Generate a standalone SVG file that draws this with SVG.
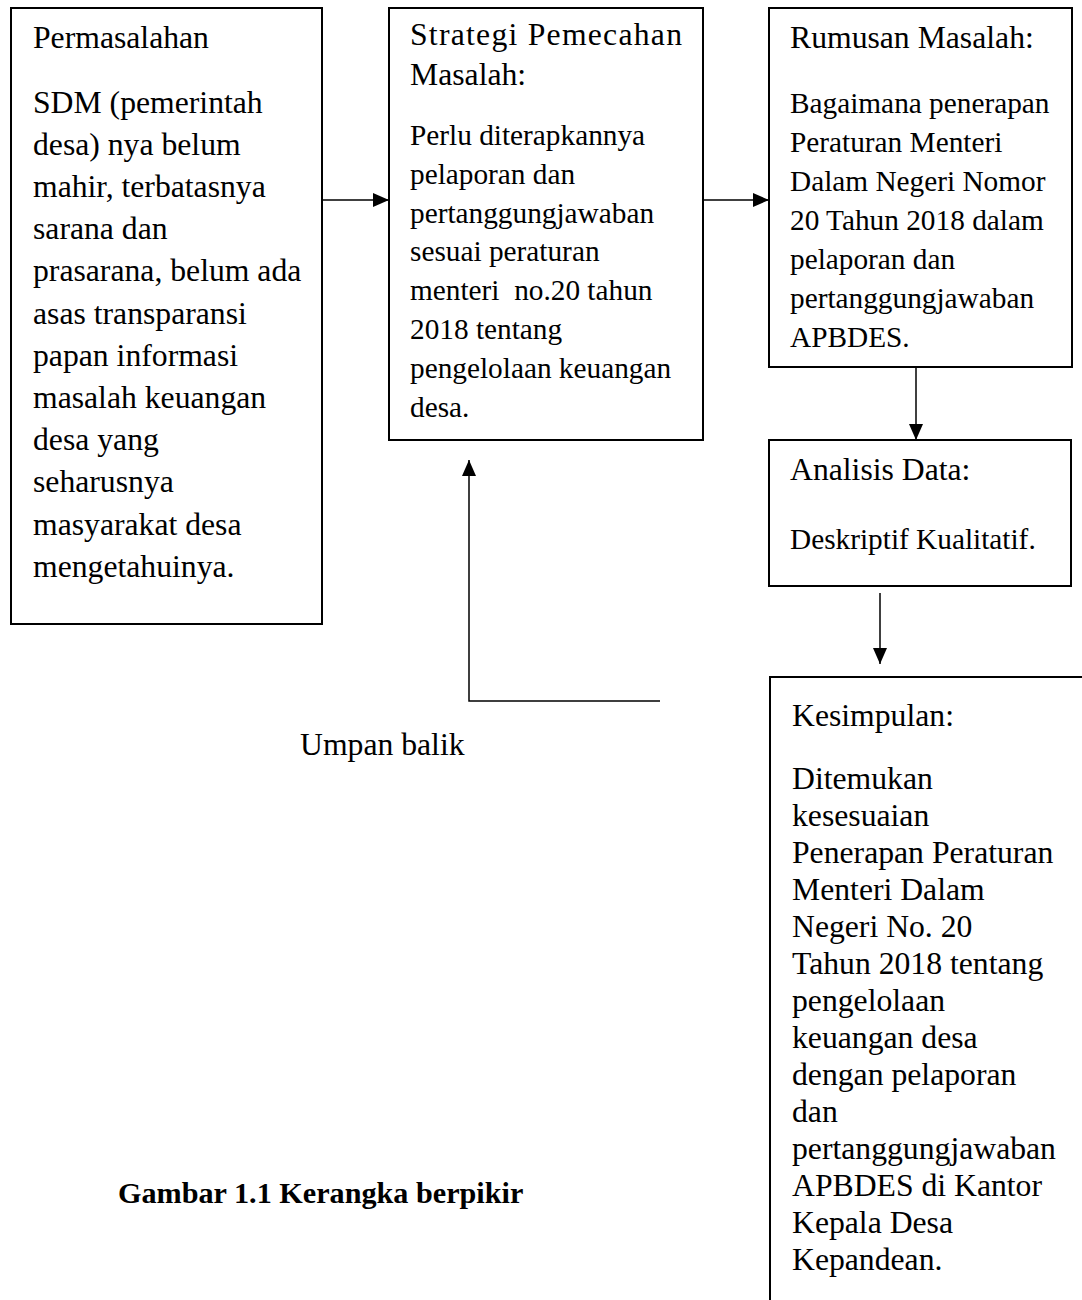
<svg xmlns="http://www.w3.org/2000/svg" width="1082" height="1300" viewBox="0 0 1082 1300">
<style>
.box{fill:#fff;stroke:#000;stroke-width:2}
.t{font-family:"Liberation Serif","Times New Roman",serif;font-size:31.7px;fill:#000}
.b{font-size:29.3px}
.conn{fill:none;stroke:#000;stroke-width:1.5}
.cap{font-weight:bold;font-size:30.2px}
</style>
<defs>
<marker id="ah" markerUnits="userSpaceOnUse" markerWidth="18" markerHeight="14" refX="16" refY="7" orient="auto">
<path d="M0,0 L16,7 L0,14 Z" fill="#000"/>
</marker>
</defs>
<rect width="1082" height="1300" fill="#fff"/>
<g id="connectors">
<line class="conn" x1="322" y1="200" x2="389" y2="200" marker-end="url(#ah)"/>
<line class="conn" x1="703" y1="200" x2="769" y2="200" marker-end="url(#ah)"/>
<line class="conn" x1="916" y1="367" x2="916" y2="440" marker-end="url(#ah)"/>
<line class="conn" x1="880" y1="593" x2="880" y2="664" marker-end="url(#ah)"/>
<polyline class="conn" points="660,701 469,701 469,460" marker-end="url(#ah)"/>
</g>
<g id="permasalahan">
<rect class="box" x="11" y="8" width="311" height="616"/>
<text class="t" x="33" y="48">Permasalahan</text>
<text class="t" x="33" y="113">SDM (pemerintah</text>
<text class="t" x="33" y="155">desa) nya belum</text>
<text class="t" x="33" y="197">mahir, terbatasnya</text>
<text class="t" x="33" y="239">sarana dan</text>
<text class="t" x="33" y="281">prasarana, belum ada</text>
<text class="t" x="33" y="324">asas transparansi</text>
<text class="t" x="33" y="366">papan informasi</text>
<text class="t" x="33" y="408">masalah keuangan</text>
<text class="t" x="33" y="450">desa yang</text>
<text class="t" x="33" y="492">seharusnya</text>
<text class="t" x="33" y="535">masyarakat desa</text>
<text class="t" x="33" y="577">mengetahuinya.</text>
</g>
<g id="strategi">
<rect class="box" x="389" y="8" width="314" height="432"/>
<text class="t" x="410" y="45" textLength="272" lengthAdjust="spacing">Strategi Pemecahan</text>
<text class="t" x="410" y="85">Masalah:</text>
<text class="t b" x="410" y="145">Perlu diterapkannya</text>
<text class="t b" x="410" y="184">pelaporan dan</text>
<text class="t b" x="410" y="223">pertanggungjawaban</text>
<text class="t b" x="410" y="261">sesuai peraturan</text>
<text class="t b" x="410" y="300" xml:space="preserve">menteri  no.20 tahun</text>
<text class="t b" x="410" y="339">2018 tentang</text>
<text class="t b" x="410" y="378">pengelolaan keuangan</text>
<text class="t b" x="410" y="417">desa.</text>
</g>
<g id="rumusan">
<rect class="box" x="769" y="8" width="303" height="359"/>
<text class="t" x="790" y="48">Rumusan Masalah:</text>
<text class="t b" x="790" y="113">Bagaimana penerapan</text>
<text class="t b" x="790" y="152">Peraturan Menteri</text>
<text class="t b" x="790" y="191">Dalam Negeri Nomor</text>
<text class="t b" x="790" y="230">20 Tahun 2018 dalam</text>
<text class="t b" x="790" y="269">pelaporan dan</text>
<text class="t b" x="790" y="308">pertanggungjawaban</text>
<text class="t b" x="790" y="347">APBDES.</text>
</g>
<g id="analisis">
<rect class="box" x="769" y="440" width="302" height="146"/>
<text class="t" x="790" y="480">Analisis Data:</text>
<text class="t b" x="790" y="549">Deskriptif Kualitatif.</text>
</g>
<g id="kesimpulan">
<rect class="box" x="770" y="677" width="330" height="640"/>
<text class="t" x="792" y="726">Kesimpulan:</text>
<text class="t" x="792" y="789">Ditemukan</text>
<text class="t" x="792" y="826">kesesuaian</text>
<text class="t" x="792" y="863">Penerapan Peraturan</text>
<text class="t" x="792" y="900">Menteri Dalam</text>
<text class="t" x="792" y="937">Negeri No. 20</text>
<text class="t" x="792" y="974">Tahun 2018 tentang</text>
<text class="t" x="792" y="1011">pengelolaan</text>
<text class="t" x="792" y="1048">keuangan desa</text>
<text class="t" x="792" y="1085">dengan pelaporan</text>
<text class="t" x="792" y="1122">dan</text>
<text class="t" x="792" y="1159">pertanggungjawaban</text>
<text class="t" x="792" y="1196">APBDES di Kantor</text>
<text class="t" x="792" y="1233">Kepala Desa</text>
<text class="t" x="792" y="1270">Kepandean.</text>
</g>
<g id="labels">
<text class="t" x="300" y="755">Umpan balik</text>
<text class="t cap" x="118" y="1203">Gambar 1.1 Kerangka berpikir</text>
</g>
</svg>
